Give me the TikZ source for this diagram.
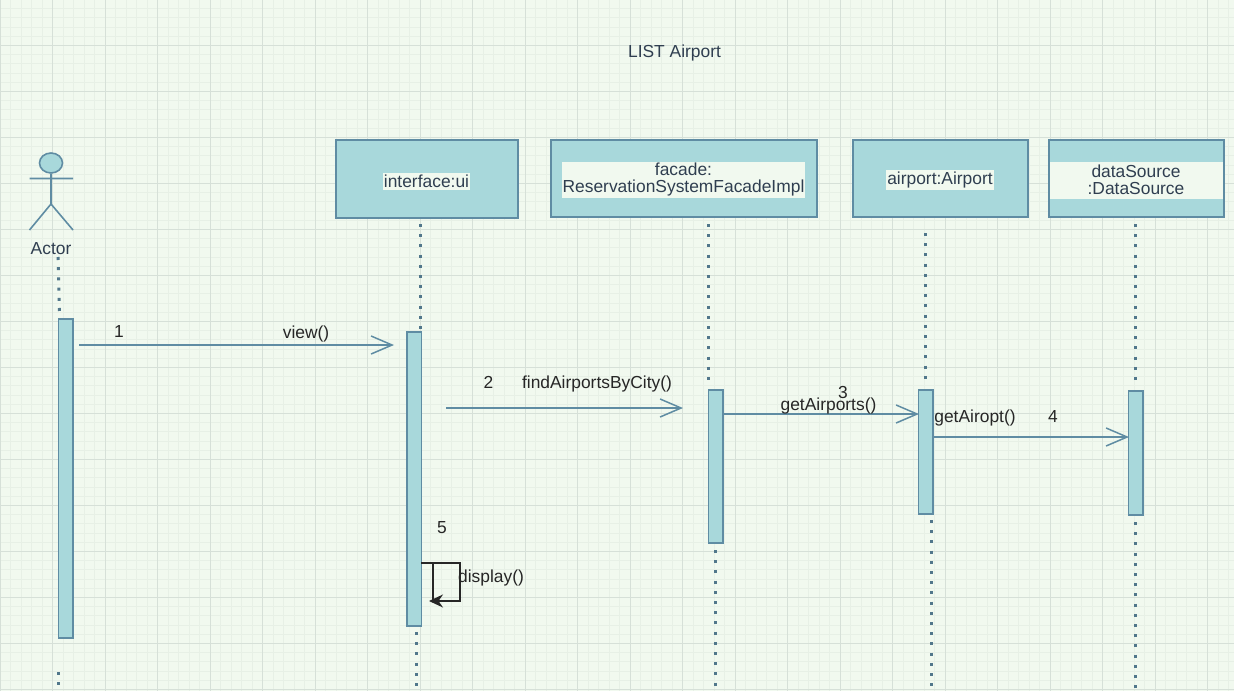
\documentclass[tikz,border=0pt]{standalone}
\usepackage{fontspec}
\setmainfont{Liberation Sans}
\usetikzlibrary{arrows.meta,shapes.geometric}
\definecolor{paper}{HTML}{F1F9EF}
\definecolor{gridminor}{HTML}{E7F0E6}
\definecolor{gridmajor}{HTML}{D6E0D8}
\definecolor{boxfill}{HTML}{A8D8DB}
\definecolor{boxline}{HTML}{5F8CA3}
\definecolor{inkblue}{HTML}{2F3E50}
\tikzset{
  label/.style={font=\fontsize{17.4}{17.5}\selectfont,text=inkblue,inner sep=0pt,align=center},
  tag/.style={font=\fontsize{17.4}{17.5}\selectfont,text=black!85,inner sep=0pt},
  party/.style={draw=boxline,fill=boxfill,line width=2pt,anchor=north west,inner sep=0pt},
  bar/.style={draw=boxline,fill=boxfill,line width=1.8pt,anchor=north west,inner sep=0pt,minimum width=14.5pt},
  lifeline/.style={draw=boxline!85!black,line width=3pt,dash pattern=on 3pt off 7.2pt},
  message/.style={draw=boxline,line width=1.7pt,-{Straight Barb[length=21pt,width=18pt,line width=1.5pt]}},
  selfcall/.style={draw=black!85,line width=1.1pt}
}
\begin{document}
\begin{tikzpicture}[x=1pt,y=-1pt]
\useasboundingbox (0,0) rectangle (1234,691);
\fill[paper] (0,0) rectangle (1234,691);
% grid
\foreach \i in {0,...,118} \draw[gridminor,line width=0.9pt] (0.25+10.5*\i,0) -- (0.25+10.5*\i,691);
\foreach \j in {0,...,75} \draw[gridminor,line width=0.9pt] (0,-0.5+9.2*\j) -- (1234,-0.5+9.2*\j);
\foreach \i in {0,...,23} \draw[gridmajor,line width=1.1pt] (0.25+52.5*\i,0) -- (0.25+52.5*\i,691);
\foreach \j in {0,...,15} \draw[gridmajor,line width=1.1pt] (0,-0.5+46*\j) -- (1234,-0.5+46*\j);
% title
\node[label] (title) at (674.5,52.5) {LIST Airport};
% actor
\node[draw=boxline,fill=boxfill,line width=1.6pt,ellipse,minimum width=23pt,minimum height=20pt,inner sep=0pt] (head) at (51,163) {};
\coordinate (hip) at (51,204);
\draw[draw=boxline,line width=1.6pt] (head.south) -- (hip) (29.5,178.5) -- (73,178.5) (29.5,230) -- (hip) -- (73,230);
\node[label] (actor) at (51,249) {Actor};
% parties
\node[party,minimum width=182pt,minimum height=78pt] (ui) at (334.5,139) {};
\node[party,minimum width=266pt,minimum height=77pt] (facade) at (550,139) {};
\node[party,minimum width=175pt,minimum height=77pt] (airport) at (852,139) {};
\node[party,minimum width=175pt,minimum height=77pt] (source) at (1048,139) {};
\node[label,fill=paper,inner xsep=1pt,inner ysep=2pt] (uitext) at (426.5,181.5) {interface:ui};
\node[label,fill=paper,minimum width=243pt,minimum height=36pt] (facadetext) at (683.5,179.5) {facade:\\ReservationSystemFacadeImpl};
\node[label,fill=paper,inner xsep=1pt,inner ysep=2pt] (airporttext) at (940,180) {airport:Airport};
\node[label,fill=paper,minimum width=173pt,minimum height=37pt] (sourcetext) at (1136,180) {dataSource\\:DataSource};
% activation bars
\node[bar,minimum height=319pt] (actorbar) at (57.5,318) {};
\node[bar,minimum height=294pt] (uibar) at (406,331) {};
\node[bar,minimum height=153pt] (facadebar) at (707.5,389) {};
\node[bar,minimum height=124pt] (airportbar) at (917.5,389) {};
\node[bar,minimum height=124pt] (sourcebar) at (1127.5,390) {};
% lifelines
\draw[lifeline] (58,257) -- (59.5,317);
\draw[lifeline] (58,672) -- (58,688);
\draw[lifeline] (420,224) -- (420,330);
\draw[lifeline] (416,632) -- (416,688);
\draw[lifeline] (708,224) -- (708,380);
\draw[lifeline] (715,550) -- (715,688);
\draw[lifeline] (925,233) -- (925,380);
\draw[lifeline] (931,520) -- (931,688);
\draw[lifeline] (1135,224) -- (1135,380);
\draw[lifeline] (1135,522) -- (1135,688);
% messages
\coordinate (m1a) at (79,345);
\coordinate (m1b) at (394,345);
\coordinate (m2a) at (446,408);
\coordinate (m2b) at (683,408);
\coordinate (m3a) at (723,414);
\coordinate (m3b) at (919,414);
\coordinate (m4a) at (933,437);
\coordinate (m4b) at (1129,437);
\draw[message] (m1a) -- (m1b);
\draw[message] (m2a) -- (m2b);
\draw[message] (m3a) -- (m3b);
\draw[message] (m4a) -- (m4b);
\node[tag] (n1) at (119,331.5) {1};
\node[tag] (view) at (306,333.5) {view()};
\node[tag] (n2) at (488.5,382) {2};
\node[tag] (find) at (597,383.5) {findAirportsByCity()};
\node[tag] (n3) at (843,393) {3};
\node[tag] (getairports) at (828.5,405.5) {getAirports()};
\node[tag] (getairopt) at (975,417.5) {getAiropt()};
\node[tag] (n4) at (1053,417) {4};
\node[tag] (n5) at (442,527.5) {5};
% self call
\coordinate (s0) at (421,563);
\coordinate (s1) at (460,563);
\coordinate (s2) at (460,601);
\coordinate (s3) at (429,601);
\coordinate (s4) at (433,563);
\coordinate (s5) at (433,602);
\draw[selfcall] (s4) -- (s5);
\draw[selfcall,-{Stealth[length=14pt,width=13pt]}] (s0) -- (s1) -- (s2) -- (s3);
\node[tag] (display) at (491,578) {display()};
\end{tikzpicture}
\end{document}
